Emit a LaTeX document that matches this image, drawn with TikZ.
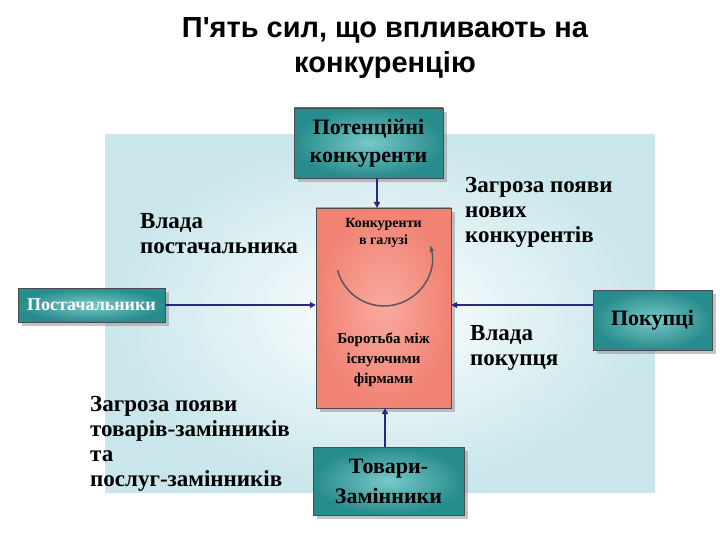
\documentclass[tikz,border=0pt]{standalone}
\usepackage{fontspec}
\setmainfont{Liberation Serif}
\newfontfamily\titlefont{Liberation Sans}
\usetikzlibrary{arrows.meta,shadows}
\definecolor{teal1}{RGB}{40,140,140}
\definecolor{teal2}{RGB}{120,200,200}
\definecolor{salm}{RGB}{240,130,115}
\definecolor{salm2}{RGB}{250,170,160}
\definecolor{arr}{RGB}{40,40,130}
\definecolor{bgout}{RGB}{200,230,235}
\tikzset{
  tbox/.style={draw=black!70,inner color=teal2,outer color=teal1,drop shadow={shadow xshift=4pt,shadow yshift=-4pt,fill=black!45},font=\bfseries,align=center,inner sep=0pt},
  lab/.style={font=\bfseries\fontsize{23}{25}\selectfont,align=left,anchor=north west,inner sep=0pt},
  con/.style={draw=arr,line width=2.2pt,-{Triangle[length=6pt,width=6pt]}}
}
\begin{document}
\begin{tikzpicture}[x=1pt,y=-1pt]
\useasboundingbox (0,0) rectangle (720,540);
\fill[white] (0,0) rectangle (720,540);
\shade[inner color=white,outer color=bgout] (105,135) rectangle (655,492);
\node[font=\titlefont\bfseries\fontsize{29}{35}\selectfont,align=center] (title) at (385,48) {П'ять сил, що впливають на\\конкуренцію};
\node[draw=black!70,inner color=salm2,outer color=salm,drop shadow={shadow xshift=4pt,shadow yshift=-4pt,fill=black!45},minimum width=135pt,minimum height=200pt] (c) at (383.5,308) {};
\node[font=\bfseries\fontsize{14}{17}\selectfont,align=center] (ct) at (383.5,233) {Конкуренти\\в галузі};
\node[font=\bfseries\fontsize{15}{20}\selectfont,align=center] (cb) at (383.5,360) {Боротьба між\\існуючими\\фірмами};
\node[tbox,minimum width=149pt,minimum height=70pt,font=\bfseries\fontsize{22}{28}\selectfont] (top) at (368.5,143) {Потенційні\\конкуренти};
\node[tbox,minimum width=147pt,minimum height=34pt,font=\bfseries\fontsize{18}{18}\selectfont,text=white] (left) at (91.5,305) {Постачальники};
\node[tbox,minimum width=119pt,minimum height=60pt,font=\bfseries\fontsize{22}{26}\selectfont] (right) at (652.5,320) {Покупці};
\node[tbox,minimum width=151pt,minimum height=68pt,font=\bfseries\fontsize{22}{30}\selectfont] (bot) at (388.5,481) {Товари-\\Замінники};
\draw[con] (top.south -| 377,0) -- (377,208);
\draw[con] (left.east) -- (c.west |- left.east);
\draw[con] (right.west |- 0,305) -- (c.east |- 0,305);
\draw[con] (bot.north -| 385,0) -- (385,408);
\draw[gray!70!black,line width=1.5pt,-{Stealth[length=7pt]}] (384,258) ++(165:48) arc[start angle=165,end angle=-15,radius=48];
\node[lab] (l1) at (140,213) {Влада\\постачальника};
\node[lab] (l2) at (465,177) {Загроза появи\\нових\\конкурентів};
\node[lab] (l3) at (470,325) {Влада\\покупця};
\node[lab] (l4) at (90,396) {Загроза появи\\товарів-замінників\\та\\послуг-замінників};
\end{tikzpicture}
\end{document}
